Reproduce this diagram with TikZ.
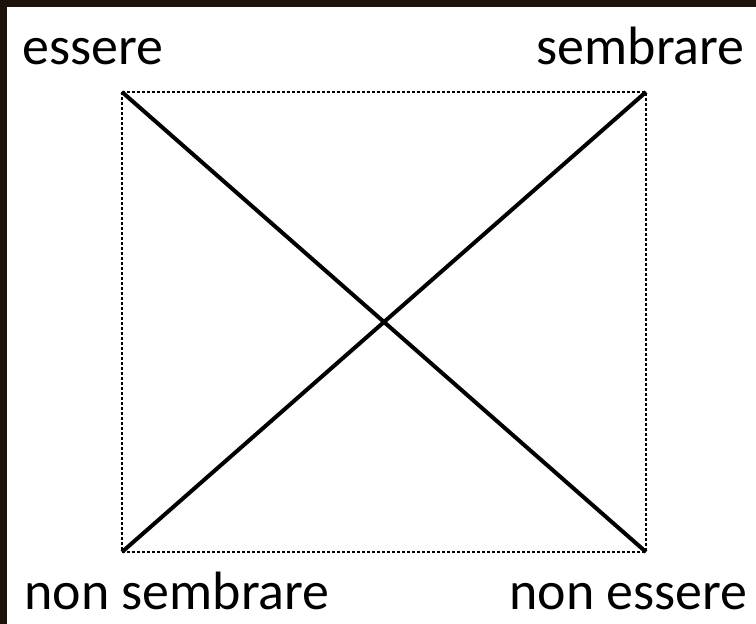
\documentclass[tikz,border=0pt]{standalone}
\usepackage{fontspec}
\setmainfont{Carlito}
\tikzset{
  lbl/.style={inner sep=0pt, font=\fontsize{30.7}{36}\selectfont},
  frame/.style={line width=0.05cm, dash pattern=on 0.055cm off 0.045cm},
  diag/.style={line width=0.08cm}
}
\begin{document}
\begin{tikzpicture}
    \useasboundingbox (0,0) rectangle (15.12,12.48);
    \fill[white] (0,0) rectangle (15.12,12.48);
    \fill[black!85!brown] (0,12.33) rectangle (15.12,12.48); %frame
    \fill[black!85!brown] (0,0) rectangle (0.15,12.48);
    \coordinate (tl) at (2.44,10.64);
    \coordinate (tr) at (12.92,10.64);
    \coordinate (bl) at (2.44,1.44);
    \coordinate (br) at (12.92,1.44);
    \draw[frame] (tl) -- (tr) -- (br) -- (bl) -- cycle;
    \draw[diag] (tl) -- (br);
    \draw[diag] (bl) -- (tr);
    \node[lbl,anchor=base west] (ess) at (0.44,11.18) {essere};
    \node[lbl,anchor=base east] (sem) at (14.9,11.18) {sembrare};
    \node[lbl,anchor=base west] (nsem) at (0.48,0.28) {non sembrare};
    \node[lbl,anchor=base east] (ness) at (14.96,0.28) {non essere};
\end{tikzpicture}
\end{document}
